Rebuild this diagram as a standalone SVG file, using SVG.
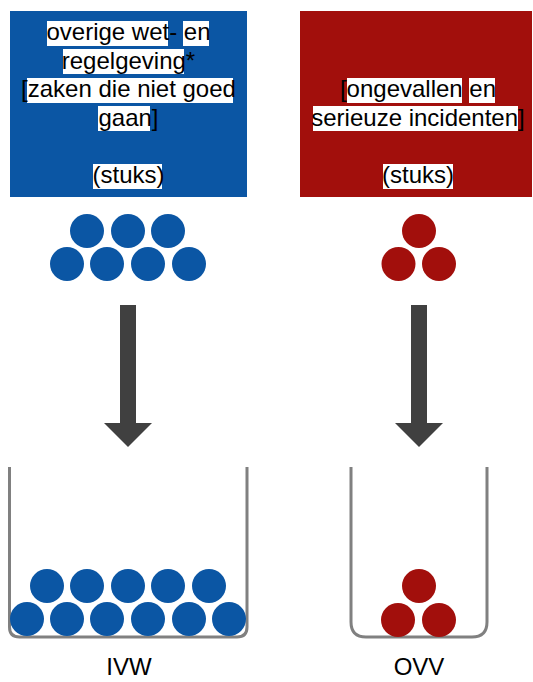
<svg xmlns="http://www.w3.org/2000/svg" width="533" height="682" viewBox="0 0 533 682">
<style>
.t{font-family:"Liberation Sans",Arial,sans-serif;font-size:24px;fill:#000;text-anchor:middle}
.hl{fill:#fff}
.b{fill:#0B56A4}
.r{fill:#A20F0C}
.arr{fill:#404040}
.cup{fill:none;stroke:#808080;stroke-width:3}
.lbl{font-family:"Liberation Sans",Arial,sans-serif;font-size:24px;fill:#000;text-anchor:middle}
</style>
<rect width="533" height="682" fill="#fff"/>
<g id="box-ivw">
<rect x="10" y="11" width="237" height="186" class="b"/>
<rect class="hl" x="47" y="21" width="121" height="25"/>
<rect class="hl" x="183" y="21" width="26" height="25"/>
<rect class="hl" x="63" y="49" width="121" height="25"/>
<rect class="hl" x="27" y="78" width="206" height="25"/>
<rect class="hl" x="98" y="106" width="52" height="25"/>
<rect class="hl" x="93" y="164" width="69" height="25"/>
<text class="t" x="128.5" y="40">overige wet- en</text>
<text class="t" x="128.5" y="68.5">regelgeving*</text>
<text class="t" x="128.5" y="97">[zaken die niet goed</text>
<text class="t" x="128.5" y="125.5">gaan]</text>
<text class="t" x="128.5" y="182.5">(stuks)</text>
</g>
<g id="box-ovv">
<rect x="300" y="11" width="232" height="186" class="r"/>
<rect class="hl" x="347" y="78" width="115" height="25"/>
<rect class="hl" x="469" y="78" width="26" height="25"/>
<rect class="hl" x="313" y="106" width="205" height="25"/>
<rect class="hl" x="383" y="164" width="70" height="25"/>
<text class="t" x="418" y="97">[ongevallen en</text>
<text class="t" x="418" y="125.5">serieuze incidenten]</text>
<text class="t" x="418" y="182.5">(stuks)</text>
</g>
<g id="balls-ivw-top">
<circle class="b" cx="87" cy="231" r="17"/>
<circle class="b" cx="128" cy="231" r="17"/>
<circle class="b" cx="168" cy="231" r="17"/>
<circle class="b" cx="67" cy="264" r="17"/>
<circle class="b" cx="107" cy="264" r="17"/>
<circle class="b" cx="148" cy="264" r="17"/>
<circle class="b" cx="189" cy="264" r="17"/>
</g>
<g id="balls-ovv-top">
<circle class="r" cx="419" cy="231" r="17"/>
<circle class="r" cx="398.5" cy="264" r="17"/>
<circle class="r" cx="439" cy="264" r="17"/>
</g>
<g id="connectors">
<polygon class="arr" points="120,305 136,305 136,423 152,423 128,447 104,423 120,423"/>
<polygon class="arr" points="411,305 427,305 427,423 443,423 419,447 395,423 411,423"/>
</g>
<g id="container-ivw">
<path class="cup" d="M9.5 467 V627 Q9.5 637 19.5 637 H237 Q247 637 247 627 V467"/>
<circle class="b" cx="47" cy="586" r="17"/>
<circle class="b" cx="87" cy="586" r="17"/>
<circle class="b" cx="128" cy="586" r="17"/>
<circle class="b" cx="168" cy="586" r="17"/>
<circle class="b" cx="209" cy="586" r="17"/>
<circle class="b" cx="27" cy="619" r="17"/>
<circle class="b" cx="67" cy="619" r="17"/>
<circle class="b" cx="107" cy="619" r="17"/>
<circle class="b" cx="148" cy="619" r="17"/>
<circle class="b" cx="189" cy="619" r="17"/>
<circle class="b" cx="229" cy="619" r="17"/>
<text class="lbl" x="129" y="675">IVW</text>
</g>
<g id="container-ovv">
<path class="cup" d="M351 467 V622 Q351 637 366 637 H472 Q487 637 487 622 V467"/>
<circle class="r" cx="419" cy="586" r="17"/>
<circle class="r" cx="398" cy="620" r="17"/>
<circle class="r" cx="439" cy="620" r="17"/>
<text class="lbl" x="419" y="675">OVV</text>
</g>
</svg>
